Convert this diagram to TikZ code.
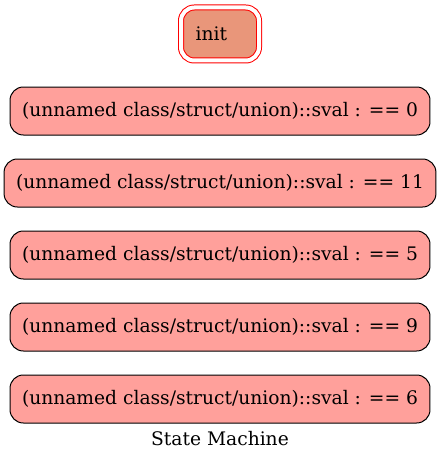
\documentclass[tikz,border=0pt]{standalone}
\usepackage{fontspec}
\setmainfont{DejaVu Serif}
\usetikzlibrary{positioning}
\definecolor{statered}{RGB}{255,160,155}
\definecolor{initsalmon}{RGB}{233,150,122}

\begin{document}
\begin{tikzpicture}[
x=0.75pt, y=-0.75pt, node distance=17.25pt,
state/.style={rectangle, rounded corners=10pt, draw=black, fill=statered, line width=0.75pt, minimum height=36pt, inner xsep=9pt, font=\fontsize{14}{17}\selectfont},
initstate/.style={rectangle, rounded corners=10pt, draw=red, double=white, double distance=3pt, line width=0.75pt, fill=initsalmon, minimum height=39.75pt, text width=36.7pt, align=left, inner xsep=10.9pt, font=\fontsize{14}{17}\selectfont}
]
\useasboundingbox (0,0) rectangle (440,460);
%Nodes
\node[initstate] (init)  at (220,34)             {init};
\node[state]     (s0)    at (220,111)            {(unnamed class/struct/union)::sval : == 0};
\node[state]     (s11)   [below=of s0]           {(unnamed class/struct/union)::sval : == 11};
\node[state]     (s5)    [below=of s11]          {(unnamed class/struct/union)::sval : == 5};
\node[state]     (s9)    [below=of s5]           {(unnamed class/struct/union)::sval : == 9};
\node[state]     (s6)    [below=of s9]           {(unnamed class/struct/union)::sval : == 6};
%Label
\node[font=\fontsize{14}{17}\selectfont] (title) [below=2.5pt of s6] {State Machine};
\end{tikzpicture}
\end{document}
